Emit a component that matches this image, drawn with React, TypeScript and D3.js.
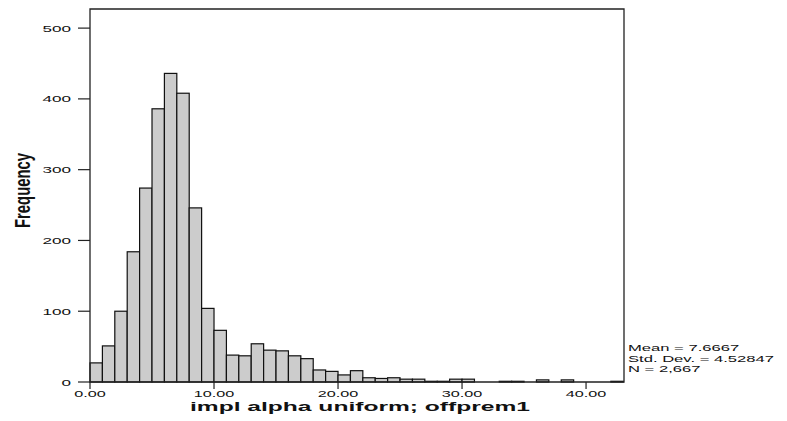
import * as d3 from 'd3';
import { useMemo } from 'react';

// histogram counts, bins of width 1 starting at 0
const binStart = 0;
const binWidth = 1;
const counts = [
  27, 51, 100, 184, 274, 386, 436, 408, 246, 104,
  73, 38, 37, 54, 45, 44, 37, 33, 17, 15,
  10, 16, 6, 5, 6, 4, 4, 1, 1, 4,
  4, 0, 0, 1, 1, 0, 3, 0, 3, 0,
  0, 0, 1,
];
const xTicks = [0, 10, 20, 30, 40];
const yTicks = [0, 100, 200, 300, 400, 500];
const xTitle = 'impl alpha uniform; offprem1';
const yTitle = 'Frequency';
const stats = ['Mean = 7.6667', 'Std. Dev. = 4.52847', 'N = 2,667'];

const W = 787;
const H = 421;
const left = 90;
const right = 624;
const top = 9;
const bottom = 382;
const font = 'Arial, "Liberation Sans", sans-serif';
const stretch = 1.8;

export default function App() {
  const x = useMemo(() => d3.scaleLinear().domain([0, 43.06]).range([left, right]), []);
  const y = useMemo(() => d3.scaleLinear().domain([0, 527]).range([bottom, top]), []);

  const bins = counts.map((c, i) => ({
    x0: binStart + i * binWidth,
    x1: binStart + (i + 1) * binWidth,
    c,
  }));

  return (
    <svg
      width={W}
      height={H}
      style={{ position: 'fixed', left: 0, top: 0, background: '#fff' }}
    >
      <rect x={0} y={0} width={W} height={H} fill='#fff' />
      {bins
        .filter((b) => b.c > 0)
        .map((b, i) => (
          <rect
            key={i}
            x={x(b.x0)}
            y={y(b.c)}
            width={x(b.x1) - x(b.x0)}
            height={bottom - y(b.c)}
            fill='#cccccc'
            stroke='#111'
            strokeWidth={1.2}
          />
        ))}

      {/* frame */}
      <path
        d={`M${left},${bottom}V${top}H${right}V${bottom}Z`}
        fill='none'
        stroke='#222'
        strokeWidth={1.3}
      />

      {/* y axis */}
      {yTicks.map((t) => (
        <g key={t}>
          <line x1={left - 12} x2={left} y1={y(t)} y2={y(t)} stroke='#222' strokeWidth={1.2} />
          <text
            transform={`translate(${left - 19},${y(t) + 3.5}) scale(${stretch},1)`}
            textAnchor='end'
            fontFamily={font}
            fontSize={9.5}
            fill='#111'
          >
            {t}
          </text>
        </g>
      ))}

      {/* x axis */}
      {xTicks.map((t) => (
        <g key={t}>
          <line x1={x(t)} x2={x(t)} y1={bottom} y2={bottom + 7} stroke='#222' strokeWidth={1.2} />
          <text
            transform={`translate(${x(t)},${bottom + 15}) scale(${stretch},1)`}
            textAnchor='middle'
            fontFamily={font}
            fontSize={9}
            fill='#111'
          >
            {d3.format('.2f')(t)}
          </text>
        </g>
      ))}

      <text
        x={360}
        y={411}
        textAnchor='middle'
        fontFamily={font}
        fontWeight='bold'
        fontSize={12}
        textLength={340}
        lengthAdjust='spacingAndGlyphs'
        fill='#111'
      >
        {xTitle}
      </text>

      <text
        transform={`translate(30,190.5) scale(1.7,1) rotate(-90)`}
        textAnchor='middle'
        fontFamily={font}
        fontWeight='bold'
        fontSize={12.5}
        textLength={75}
        lengthAdjust='spacingAndGlyphs'
        fill='#111'
      >
        {yTitle}
      </text>

      {stats.map((s, i) => (
        <text
          key={s}
          transform={`translate(628,${351 + i * 10.5}) scale(1.75,1)`}
          fontFamily={font}
          fontSize={9.5}
          fill='#111'
        >
          {s}
        </text>
      ))}
    </svg>
  );
}
